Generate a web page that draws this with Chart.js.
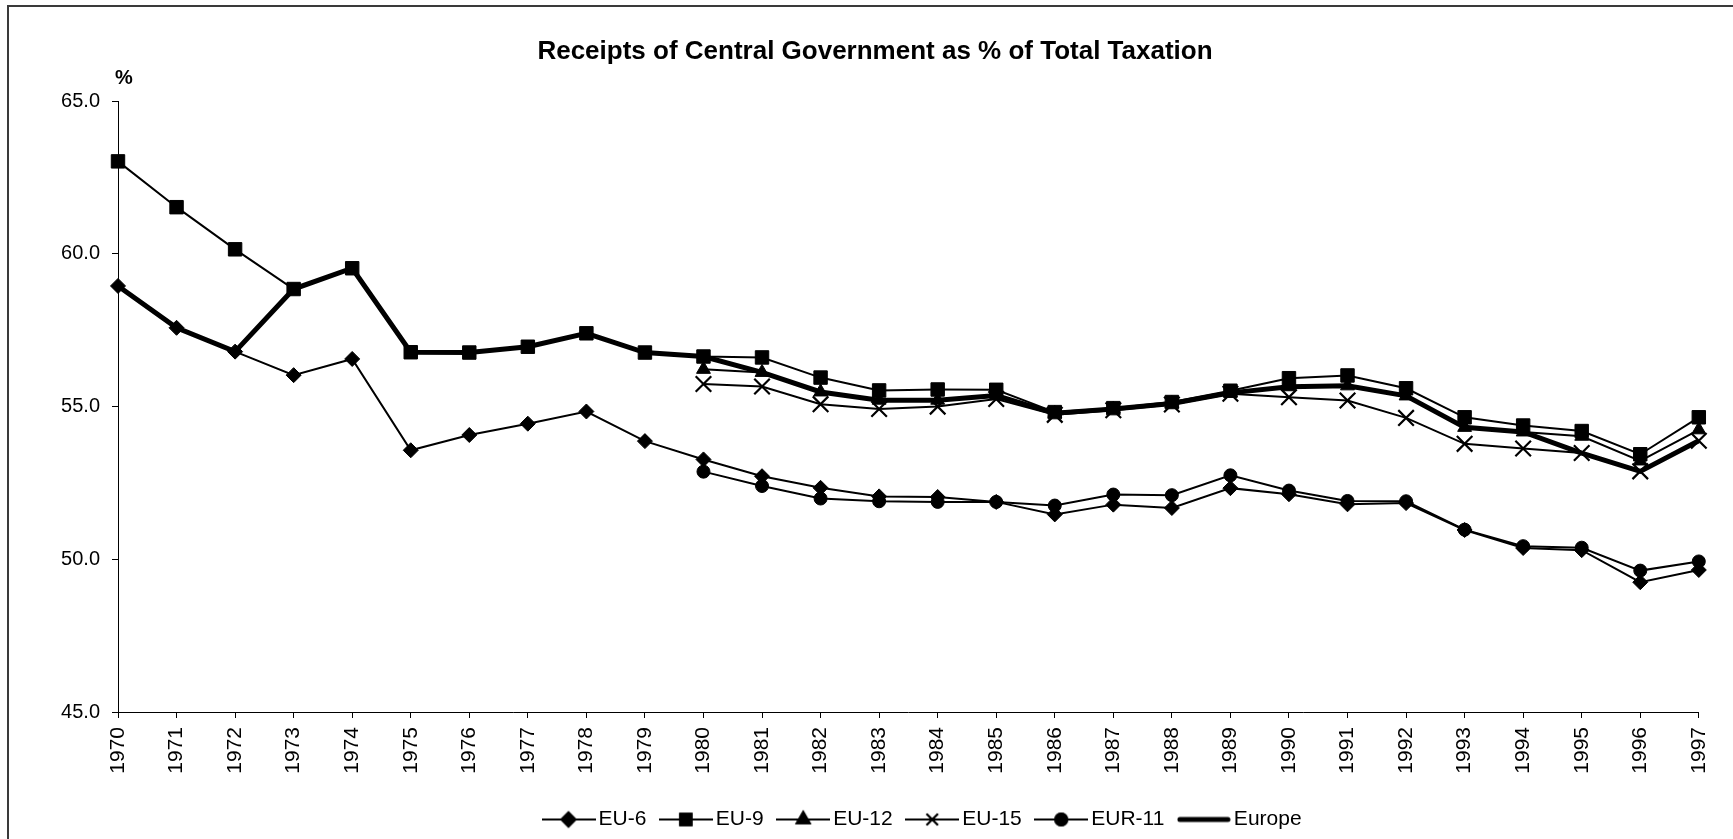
<!DOCTYPE html>
<html>
<head>
<meta charset="utf-8">
<script src="https://cdn.jsdelivr.net/npm/chart.js@4.4.0/dist/chart.umd.min.js"></script>
<style>
  body { margin: 0; background: #fff; overflow: hidden; }
  #wrap { position: relative; width: 1733px; height: 839px; }
  #frame { position: absolute; left: 7px; top: 5px; width: 2000px; height: 2000px;
           border-left: 2px solid #3a3a3a; border-top: 2px solid #3a3a3a; }
  canvas { position: absolute; left: 0; top: 0; }
</style>
</head>
<body>
<div id="wrap">
  <div id="frame"></div>
  <canvas id="chart" width="1733" height="839"></canvas>
</div>
<script>
var years = ["1970","1971","1972","1973","1974","1975","1976","1977","1978","1979",
             "1980","1981","1982","1983","1984","1985","1986","1987","1988","1989",
             "1990","1991","1992","1993","1994","1995","1996","1997"];

var eu6 = [58.95, 57.58, 56.80, 56.03, 56.56, 53.57, 54.07, 54.44, 54.84, 53.87,
           53.27, 52.72, 52.34, 52.06, 52.04, 51.88, 51.47, 51.79, 51.68, 52.33,
           52.13, 51.80, 51.84, 50.96, 50.37, 50.30, 49.25, 49.65];
var eu9 = [63.03, 61.53, 60.15, 58.85, 59.53, 56.78, 56.77, 56.96, 57.40, 56.77,
           56.64, 56.61, 55.95, 55.53, 55.56, 55.55, 54.82, 54.95, 55.15, 55.52,
           55.93, 56.02, 55.60, 54.65, 54.38, 54.20, 53.44, 54.65];
var eu12 = [null, null, null, null, null, null, null, null, null, null,
            56.22, 56.12, 55.48, 55.21, 55.21, 55.36, 54.78, 54.92, 55.10, 55.45,
            55.65, 55.68, 55.35, 54.32, 54.17, 54.03, 53.22, 54.24];
var eu15 = [null, null, null, null, null, null, null, null, null, null,
            55.74, 55.66, 55.08, 54.92, 55.00, 55.25, 54.73, 54.88, 55.07, 55.42,
            55.31, 55.20, 54.63, 53.78, 53.63, 53.48, 52.88, 53.88];
var eur11 = [null, null, null, null, null, null, null, null, null, null,
             52.87, 52.40, 51.99, 51.90, 51.88, 51.88, 51.76, 52.12, 52.10, 52.75,
             52.25, 51.91, 51.90, 50.97, 50.43, 50.38, 49.63, 49.93];
var europe = [58.95, 57.58, 56.80, 58.85, 59.53, 56.78, 56.77, 56.96, 57.40, 56.77,
              56.64, 56.12, 55.48, 55.21, 55.21, 55.36, 54.78, 54.92, 55.10, 55.45,
              55.65, 55.68, 55.35, 54.32, 54.17, 53.48, 52.88, 53.88];

var labels = ["EU-6", "EU-9", "EU-12", "EU-15", "EUR-11", "Europe"];
var yTicks = [45, 50, 55, 60, 65];

var FONT = '"Liberation Sans", Arial, sans-serif';

// little canvas pictures for the legend: line - marker - line
function legendIcon(style, thick){
    var c = document.createElement('canvas');
    c.width = 54; c.height = 22;
    var ctx = c.getContext('2d');
    ctx.strokeStyle = '#000';
    ctx.fillStyle = '#000';
    ctx.lineWidth = thick ? 5 : 2;
    ctx.lineCap = thick ? 'round' : 'butt';
    ctx.beginPath();
    ctx.moveTo(thick ? 3 : 0, 11);
    ctx.lineTo(thick ? 51 : 54, 11);
    ctx.stroke();
    if(style){
        var r = {rect: 8, rectRot: 7, triangle: 7.5, crossRot: 8, circle: 6}[style];
        Chart.helpers.drawPoint(ctx, {pointStyle: style, radius: r, borderWidth: style=='crossRot' ? 2 : 1}, 27, 11);
        if(style != 'crossRot') ctx.fill();
        ctx.stroke();
    }
    return c;
}

var extras = {
    id: 'extras',
    afterDraw: function(chart){
        var ctx = chart.ctx;
        ctx.save();
        ctx.font = 'bold 20px ' + FONT;
        ctx.fillStyle = '#000';
        ctx.textAlign = 'center';
        ctx.textBaseline = 'middle';
        ctx.fillText('%', 124, 78);
        ctx.restore();
    },
    afterLayout: function(chart){
        // title and legend sit a little right of centre in the original
        var T = chart.titleBlock;
        if(T){ T.left += 24; T.right += 24; }
        var L = chart.legend;
        if(!L || !L.lineWidths) return;
        var pad = L.options.labels.padding;
        var start = (L.left + pad + L.right - L.lineWidths[0]) / 2;
        var dx = 549 - start;
        L.left += dx; L.right += dx;
        var dy = 789 - L.top;
        L.top += dy; L.bottom += dy;
    }
};

function ds(label, data, style, radius){
    return {
        label: label,
        data: data,
        borderColor: '#000',
        backgroundColor: '#000',
        borderWidth: 2,
        pointStyle: style,
        pointRadius: radius,
        pointHoverRadius: radius,
        pointBorderWidth: style=='crossRot' ? 2.2 : 1,
        pointBackgroundColor: '#000',
        pointBorderColor: '#000',
        spanGaps: false,
        tension: 0
    };
}

var datasets = [
    ds(labels[0], eu6, 'rectRot', 7.5),
    ds(labels[1], eu9, 'rect', 9.5),
    ds(labels[2], eu12, 'triangle', 8),
    ds(labels[3], eu15, 'crossRot', 11),
    ds(labels[4], eur11, 'circle', 6.5),
    {
        label: labels[5],
        data: europe,
        borderColor: '#000',
        backgroundColor: '#000',
        borderWidth: 5,
        pointRadius: 0,
        tension: 0
    }
];

var icons = [legendIcon('rectRot'), legendIcon('rect'), legendIcon('triangle'),
             legendIcon('crossRot'), legendIcon('circle'), legendIcon(null, true)];

var chart = new Chart(document.getElementById('chart').getContext('2d'), {
    type: 'line',
    data: { labels: years, datasets: datasets },
    plugins: [extras],
    options: {
        responsive: false,
        animation: false,
        devicePixelRatio: 1,
        layout: { padding: { left: 0, right: 31, top: 0, bottom: 12 } },
        plugins: {
            title: {
                display: true,
                text: 'Receipts of Central Government as % of Total Taxation',
                color: '#000',
                font: { family: FONT, size: 26, weight: 'bold' },
                padding: { top: 36, bottom: 34 }
            },
            legend: {
                position: 'bottom',
                labels: {
                    usePointStyle: true,
                    pointStyleWidth: 39,
                    padding: 20,
                    color: '#000',
                    font: { family: FONT, size: 21 },
                    generateLabels: function(ch){
                        return ch.data.datasets.map(function(d, i){
                            return { text: d.label, pointStyle: icons[i], datasetIndex: i,
                                     fontColor: '#000', lineWidth: 0, hidden: false,
                                     fillStyle: '#000', strokeStyle: '#000' };
                        });
                    }
                }
            },
            tooltip: { enabled: false }
        },
        scales: {
            x: {
                type: 'category',
                offset: false,
                afterFit: function(s){ s.height = 64; },
                grid: { display: true, drawOnChartArea: false, drawTicks: true, tickLength: 6, color: '#000' },
                border: { display: true, color: '#000', width: 1 },
                ticks: { autoSkip: false, minRotation: 90, maxRotation: 90, padding: 9,
                         color: '#000', font: { family: FONT, size: 21 } }
            },
            y: {
                min: 45, max: 65,
                afterFit: function(s){ s.width = 118; },
                afterBuildTicks: function(s){ s.ticks = yTicks.map(function(v){ return {value: v}; }); },
                grid: { display: true, drawOnChartArea: false, drawTicks: true, tickLength: 6, color: '#000' },
                border: { display: true, color: '#000', width: 1 },
                ticks: { padding: 12, color: '#000', font: { family: FONT, size: 20 },
                         callback: function(v){ return Number(v).toFixed(1); } }
            }
        }
    }
});
</script>
</body>
</html>
